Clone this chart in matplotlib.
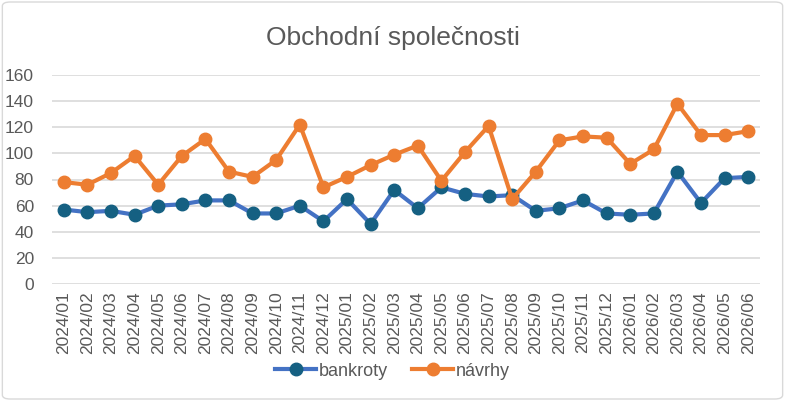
import matplotlib.pyplot as plt
from matplotlib.patches import FancyBboxPatch

plt.rcParams['font.family'] = ['Liberation Sans', 'DejaVu Sans']

months = ['2024/01', '2024/02', '2024/03', '2024/04', '2024/05', '2024/06',
          '2024/07', '2024/08', '2024/09', '2024/10', '2024/11', '2024/12',
          '2025/01', '2025/02', '2025/03', '2025/04', '2025/05', '2025/06',
          '2025/07', '2025/08', '2025/09', '2025/10', '2025/11', '2025/12',
          '2026/01', '2026/02', '2026/03', '2026/04', '2026/05', '2026/06']
bankroty = [57, 55, 56, 53, 60, 61, 64, 64, 54, 54, 60, 48,
            65, 46, 72, 58, 74, 69, 67, 68, 56, 58, 64, 54,
            53, 54, 86, 62, 81, 82]
navrhy = [78, 76, 85, 98, 76, 98, 111, 86, 82, 95, 122, 74,
          82, 91, 99, 106, 79, 101, 121, 65, 86, 110, 113, 112,
          92, 103, 138, 114, 114, 117]

text_col = '#595959'

fig = plt.figure(figsize=(7.85, 4.01), dpi=100)
ax = fig.add_axes([52/785, 1-284/401, 708/785, 209/401])

x = range(len(months))
ax.plot(x, bankroty, color='#4472C4', lw=3, marker='o', ms=9,
        mfc='#156082', mec='#156082', label='bankroty', zorder=3)
ax.plot(x, navrhy, color='#ED7D31', lw=3, marker='o', ms=9,
        mfc='#ED7D31', mec='#ED7D31', label='návrhy', zorder=3)

ax.set_xlim(-0.5, len(months) - 0.5)
ax.set_ylim(0, 160)
ax.set_yticks(range(0, 161, 20))
ax.set_xticks(list(x))
ax.set_xticklabels(months, rotation=90)
ax.tick_params(axis='both', length=0, labelsize=12.5, colors=text_col)
ax.tick_params(axis='x', pad=5)
ax.tick_params(axis='y', pad=13)
ax.grid(axis='y', color='#D9D9D9', lw=1.2)
ax.set_axisbelow(True)
for s in ax.spines.values():
    s.set_visible(False)

fig.text(0.5, 1-38/401, 'Obchodní společnosti', ha='center', va='center',
         fontsize=19, color=text_col)

fig.legend(loc='center', bbox_to_anchor=(0.5, 1-371/401), ncol=2, frameon=False,
           fontsize=13, labelcolor=text_col, handlelength=2.3, columnspacing=1.3,
           handletextpad=0.15)

fig.patches.append(FancyBboxPatch((0.003, 0.005), 0.994, 0.99,
                                  boxstyle='round,pad=0,rounding_size=0.01',
                                  transform=fig.transFigure, fill=False,
                                  ec='#D9D9D9', lw=1))

fig.savefig('out.png', dpi=100)
